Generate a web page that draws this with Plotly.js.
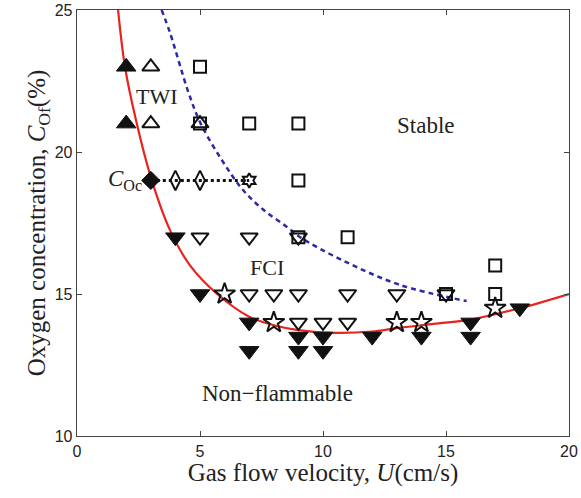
<!DOCTYPE html>
<html>
<head>
<meta charset="utf-8">
<script src="https://cdn.plot.ly/plotly-3.0.1.min.js"></script>
<style>html,body{margin:0;padding:0;background:#fff;}#chart{width:581px;height:498px;}</style>
</head>
<body>
<div id="chart"></div>
<script>
// Red boundary curve
const redX = [1.67, 1.95, 2.43, 3.04, 3.78, 4.6, 5.7, 7, 8, 9, 10.5, 12, 13, 14.5, 16, 18, 20];
const redY = [25, 23, 21, 19, 17.25, 16.0, 15, 14.2, 13.9, 13.73, 13.63, 13.68, 13.8, 13.95, 14.1, 14.5, 15];
// Blue dashed boundary curve
const blueX = [3.44, 3.78, 4.53, 5.03, 5.9, 6.75, 7.6, 8.52, 9.07, 10.76, 13.13, 15.84];
const blueY = [25, 24.2, 22.1, 21, 19.7, 18.66, 17.95, 17.37, 17.0, 16.2, 15.32, 14.75];
// Dotted C_Oc line
const cocX = [3, 7];
const cocY = [19, 19];
// Markers
const triUpFilledX = [2, 2];
const triUpFilledY = [23, 21];
const triUpOpenX = [3, 3, 5];
const triUpOpenY = [23, 21, 21];
const squareX = [5, 5, 7, 9, 9, 9, 11, 15, 17, 17];
const squareY = [23, 21, 21, 21, 19, 17, 17, 15, 16, 15];
const diamondFilledX = [3];
const diamondFilledY = [19];
const diamondOpenX = [4, 5];
const diamondOpenY = [19, 19];
const hexX = [7];
const hexY = [19];
const triDownFilledX = [4, 5, 7, 7, 9, 9, 10, 10, 12, 14, 16, 16, 18];
const triDownFilledY = [17, 15, 14, 13, 13.5, 13, 13.5, 13, 13.5, 13.5, 14, 13.5, 14.5];
const triDownOpenX = [5, 7, 9, 7, 8, 9, 11, 13, 15, 9, 10, 11];
const triDownOpenY = [17, 17, 17, 15, 15, 15, 15, 15, 15, 14, 14, 14];
const starX = [6, 8, 13, 14, 17];
const starY = [15, 14, 14, 14, 14.5];
// Ticks
const xTicks = [0, 5, 10, 15, 20];
const yTicks = [10, 15, 20, 25];

const serif = "Liberation Serif, Times New Roman, serif";
const blk = '#111';

function mk(x, y, symbol, size, filled) {
  return {
    x: x, y: y, type: 'scatter', mode: 'markers', hoverinfo: 'skip',
    marker: {symbol: symbol, size: size, color: blk,
             line: {color: blk, width: filled ? 1 : 2}}
  };
}

const traces = [
  {x: redX, y: redY, type: 'scatter', mode: 'lines', line: {color: '#e8231e', width: 2.2, shape: 'spline', smoothing: 1}, hoverinfo: 'skip'},
  {x: blueX, y: blueY, type: 'scatter', mode: 'lines', line: {color: '#2b2ba6', width: 2.5, dash: '5px,4px', shape: 'spline', smoothing: 1}, hoverinfo: 'skip'},
  {x: cocX, y: cocY, type: 'scatter', mode: 'lines', line: {color: blk, width: 3, dash: '3px,3px'}, hoverinfo: 'skip'},
  mk(triUpFilledX, triUpFilledY, 'triangle-up', 17, true),
  mk(triUpOpenX, triUpOpenY, 'triangle-up-open', 15, false),
  mk(squareX, squareY, 'square-open', 12, false),
  mk(diamondFilledX, diamondFilledY, 'diamond', 14, true),
  mk(diamondOpenX, diamondOpenY, 'diamond-tall-open', 14, false),
  mk(hexX, hexY, 'hexagram-open', 11, false),
  mk(triDownFilledX, triDownFilledY, 'triangle-down', 17, true),
  mk(triDownOpenX, triDownOpenY, 'triangle-down-open', 15, false),
  mk(starX, starY, 'star-open', 16, false)
];

const axisCommon = {
  showgrid: false, zeroline: false, showline: true, mirror: 'ticks',
  linecolor: '#444', linewidth: 1.3, ticks: 'inside', ticklen: 5, tickwidth: 1, tickcolor: '#444',
  tickfont: {family: 'Liberation Sans, Arial, sans-serif', size: 16, color: '#222'}
};

const layout = {
  width: 581, height: 498,
  margin: {l: 77, r: 12, t: 10, b: 62},
  paper_bgcolor: '#fff', plot_bgcolor: '#fff',
  showlegend: false,
  xaxis: Object.assign({}, axisCommon, {
    range: [0, 20], tickvals: xTicks, ticktext: xTicks.map(String),
    title: {text: 'Gas flow velocity, <i>U</i>(cm/s)', font: {family: serif, size: 25, color: '#222'}, standoff: 4}
  }),
  yaxis: Object.assign({}, axisCommon, {
    range: [10, 25], tickvals: yTicks, ticktext: yTicks.map(String),
    title: {text: 'Oxygen concentration, <i>C</i><sub>Of</sub>(%)', font: {family: serif, size: 25, color: '#222'}, standoff: 2}
  }),
  annotations: [
    {x: 3.25, y: 21.95, text: 'TWI', showarrow: false, font: {family: serif, size: 22, color: '#222'}},
    {x: 14.2, y: 20.95, text: 'Stable', showarrow: false, font: {family: serif, size: 23, color: '#222'}},
    {x: 7.72, y: 15.95, text: 'FCI', showarrow: false, font: {family: serif, size: 22, color: '#222'}},
    {x: 8.15, y: 11.5, text: 'Non\u2212flammable', showarrow: false, font: {family: serif, size: 23, color: '#222'}},
    {x: 2.72, y: 19.0, xanchor: 'right', text: '<i>C</i><sub>Oc</sub>', showarrow: false, font: {family: serif, size: 23, color: '#222'}}
  ]
};

Plotly.newPlot('chart', traces, layout, {staticPlot: true, displayModeBar: false});
</script>
</body>
</html>
